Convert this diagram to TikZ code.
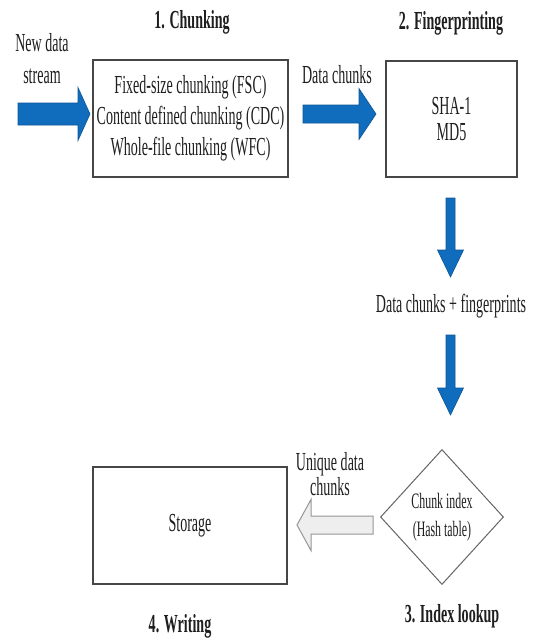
\documentclass[tikz,border=0pt]{standalone}
\usepackage{fontspec}
\setmainfont{Liberation Serif}[FakeStretch=0.54]
\usepackage{tikz}
\usetikzlibrary{shapes.geometric}
\definecolor{arrowblue}{RGB}{16,108,188}
\definecolor{boxgray}{RGB}{70,70,70}
\definecolor{inkgray}{RGB}{30,30,30}
\tikzset{
  box/.style={draw=boxgray, line width=1.2pt, rectangle, inner sep=0pt, align=center, text=inkgray},
  blk/.style={draw=arrowblue!80!black, line width=0.6pt, fill=arrowblue, line join=miter},
  hollow/.style={draw={rgb,255:red,150;green,150;blue,150}, fill={rgb,255:red,238;green,238;blue,238}, line width=1pt},
  lbl/.style={align=center, text=inkgray, inner sep=0pt},
  ttl/.style={lbl, font=\bfseries\fontsize{26}{30}\selectfont}
}
\newcommand{\txt}[1]{\fontsize{26}{#1}\selectfont}

\begin{document}
\begin{tikzpicture}[x=1pt, y=-1pt]
\useasboundingbox (0,0) rectangle (533,641);
% stages
\node[box, minimum width=195pt, minimum height=117pt, font=\txt{31}] (chunk) at (190.5,118.5)
  {Fixed-size chunking (FSC)\\Content defined chunking (CDC)\\Whole-file chunking (WFC)};
\node[box, minimum width=131pt, minimum height=116pt, font=\txt{26}] (finger) at (451.5,119) {SHA-1\\MD5};
\node[diamond, draw={rgb,255:red,100;green,100;blue,100}, line width=1pt, minimum width=123pt, minimum height=135pt,
  inner sep=0pt, align=center, text=inkgray, font=\fontsize{22}{28}\selectfont] (index) at (442,517) {Chunk index\\(Hash table)};
\node[box, minimum width=194pt, minimum height=117pt, font=\txt{30}] (store) at (190,525.5) {Storage};
% titles
\node[ttl] (t1) at (192,22) {1. Chunking};
\node[ttl] (t2) at (451,23) {2. Fingerprinting};
\node[ttl] (t3) at (452,616) {3. Index lookup};
\node[ttl] (t4) at (180,626) {4. Writing};
% block arrows
\draw[blk] (18,103) -- ++(60,0) -- ++(0,-15.5) -- ++(12,26.5) -- ++(-12,26.5) -- ++(0,-15.5) -- ++(-60,0) -- cycle;
\draw[blk] (303,105) -- ++(56,0) -- ++(0,-16.5) -- ++(17,25.5) -- ++(-17,25.5) -- ++(0,-16.5) -- ++(-56,0) -- cycle;
\draw[blk] (446,198) -- ++(0,52) -- ++(-8.5,0) -- ++(13,27) -- ++(13,-27) -- ++(-8.5,0) -- ++(0,-52) -- cycle;
\draw[blk] (446,335) -- ++(0,53) -- ++(-8.5,0) -- ++(13,27) -- ++(13,-27) -- ++(-8.5,0) -- ++(0,-53) -- cycle;
\draw[hollow] (373,516) -- ++(-62,0) -- ++(0,-16.5) -- ++(-14,25.5) -- ++(14,25.5) -- ++(0,-16.5) -- ++(62,0) -- cycle;
% labels
\node[lbl, font=\txt{32}] (l1) at (42,59) {New data\\stream};
\node[lbl, font=\txt{30}] (l2) at (337,75) {Data chunks};
\node[lbl, font=\txt{30}] (l3) at (451,306) {Data chunks + fingerprints};
\node[lbl, font=\txt{22}] (l4) at (330,474) {Unique data\\chunks};
\end{tikzpicture}
\end{document}
